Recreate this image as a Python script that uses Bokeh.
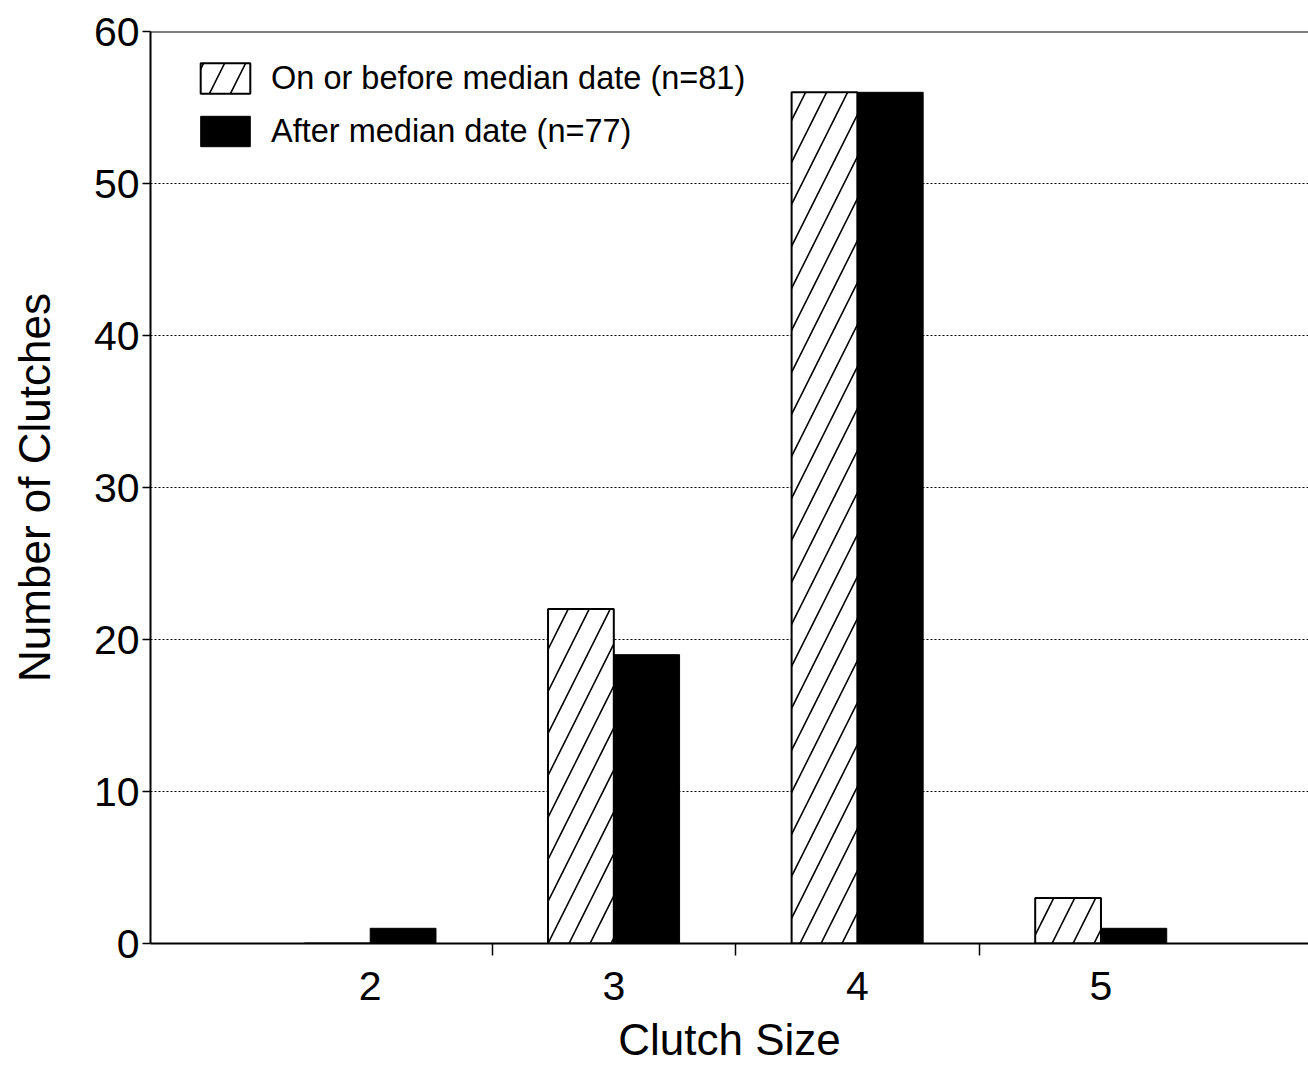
from bokeh.plotting import figure
from bokeh.models import ColumnDataSource, Range1d, FixedTicker, Legend, LegendItem, Span
from bokeh.transform import dodge
from bokeh.embed import file_html
from bokeh.resources import INLINE

# ---- data ----
clutch_size = [2, 3, 4, 5]
before_median = [0, 22, 56, 3]
after_median = [1, 19, 56, 1]
y_ticks = [0, 10, 20, 30, 40, 50, 60]
between_ticks = [2.5, 3.5, 4.5]
label_before = "On or before median date (n=81)"
label_after = "After median date (n=77)"

FONT = "Liberation Sans"
W, H = 1308, 1066

src = ColumnDataSource(dict(clutch=clutch_size, before=before_median, after=after_median))

p = figure(width=W, height=H, output_backend="svg", toolbar_location=None,
           x_range=Range1d(1.098, 5.852), y_range=Range1d(0, 60),
           min_border_left=150, min_border_right=0, min_border_top=31, min_border_bottom=122,
           background_fill_color="white", border_fill_color="white")
p.outline_line_color = None

bw = 0.27
r1 = p.vbar(x=dodge("clutch", -bw / 2), top="before", width=bw, bottom=0, source=src,
            fill_color="white", line_color="black", line_width=2,
            hatch_pattern="/", hatch_color="black", hatch_weight=1.6, hatch_scale=42)
r2 = p.vbar(x=dodge("clutch", bw / 2), top="after", width=bw, bottom=0, source=src,
            fill_color="black", line_color="black", line_width=1)

# top frame line
p.add_layout(Span(location=60, dimension="width", line_color="black", line_width=2))

# grid
p.xgrid.grid_line_color = None
p.ygrid.ticker = FixedTicker(ticks=y_ticks[1:-1])
p.ygrid.grid_line_color = "black"
p.ygrid.grid_line_dash = "2 2"
p.ygrid.grid_line_width = 1.2

# y axis
p.yaxis.ticker = FixedTicker(ticks=y_ticks)
p.yaxis.axis_label = "Number of Clutches"
p.yaxis.axis_line_width = 2
p.yaxis.major_tick_out = 8
p.yaxis.major_tick_in = 0
p.yaxis.major_tick_line_width = 1.5
p.yaxis.minor_tick_line_color = None
p.yaxis.major_label_standoff = 3
p.yaxis.axis_label_standoff = 32
p.yaxis.major_label_text_font = FONT
p.yaxis.major_label_text_font_size = "41px"
p.yaxis.major_label_text_color = "black"
p.yaxis.axis_label_text_font = FONT
p.yaxis.axis_label_text_font_size = "44px"
p.yaxis.axis_label_text_font_style = "normal"
p.yaxis.axis_label_text_color = "black"

# x axis
p.xaxis.ticker = FixedTicker(ticks=clutch_size, minor_ticks=between_ticks)
p.xaxis.axis_label = "Clutch Size"
p.xaxis.axis_line_width = 2
p.xaxis.major_tick_line_color = None
p.xaxis.major_tick_out = 0
p.xaxis.major_tick_in = 0
p.xaxis.minor_tick_out = 12
p.xaxis.minor_tick_in = 0
p.xaxis.minor_tick_line_width = 1.5
p.xaxis.minor_tick_line_color = "black"
p.xaxis.major_label_standoff = 16
p.xaxis.axis_label_standoff = 12
p.xaxis.major_label_text_font = FONT
p.xaxis.major_label_text_font_size = "41px"
p.xaxis.major_label_text_color = "black"
p.xaxis.axis_label_text_font = FONT
p.xaxis.axis_label_text_font_size = "44px"
p.xaxis.axis_label_text_font_style = "normal"
p.xaxis.axis_label_text_color = "black"

legend = Legend(items=[LegendItem(label=label_before, renderers=[r1]),
                       LegendItem(label=label_after, renderers=[r2])],
                location=(44, 793), orientation="vertical",
                border_line_color=None, background_fill_alpha=0,
                glyph_width=62, glyph_height=38, label_height=30,
                spacing=15, padding=0, margin=0, label_standoff=15,
                label_text_font=FONT, label_text_font_size="32.5px", label_text_color="black")
p.add_layout(legend)

open("out.html", "w").write(file_html(p, INLINE))
